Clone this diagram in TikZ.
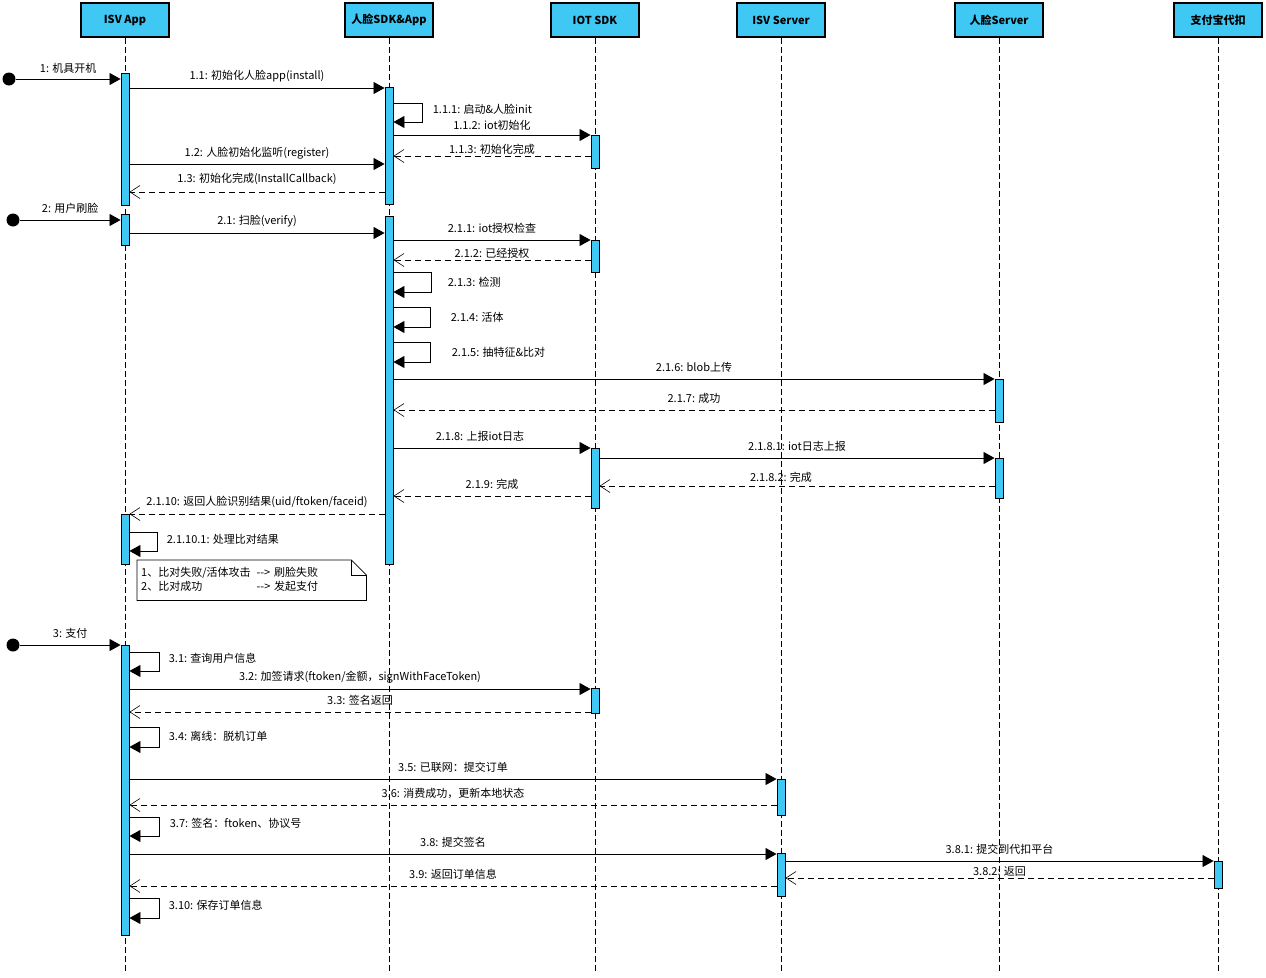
\documentclass[tikz,border=0pt]{standalone}
\usepackage{fontspec}
\setmainfont{Noto Sans CJK SC}
\usetikzlibrary{
    arrows.meta,
    positioning
}
\definecolor{ink}{RGB}{0,0,0}
\definecolor{lifebox}{RGB}{64,200,245}
\definecolor{notefill}{RGB}{255,255,255}
\tikzset{
    line join=miter,
    head/.style={
        rectangle,
        draw=ink,
        line width=1.2pt,
        fill=lifebox,
        minimum width=88pt,
        minimum height=34pt,
        inner sep=0pt,
        font=\bfseries\fontsize{11}{13}\selectfont
    },
    lifeline/.style={
        draw=ink,
        line width=0.8pt,
        dash pattern=on 6pt off 3pt
    },
    actbar/.style={
        rectangle,
        draw=ink,
        line width=0.9pt,
        fill=lifebox,
        minimum width=8pt,
        inner sep=0pt,
        anchor=north
    },
    startdot/.style={
        circle,
        fill=ink,
        minimum size=13pt,
        inner sep=0pt
    },
    call/.style={
        -{Triangle[length=11pt, width=12pt]},
        draw=ink,
        line width=0.8pt
    },
    reply/.style={
        -{Straight Barb[length=10pt, width=13pt, line width=0.6pt]},
        draw=ink,
        line width=0.8pt,
        dash pattern=on 6pt off 4pt
    },
    lbl/.style={
        midway,
        yshift=#1,
        inner sep=0pt,
        font=\fontsize{11}{13}\selectfont
    },
    lbl/.default=12pt,
    selflbl/.style={
        anchor=west,
        inner sep=0pt,
        font=\fontsize{11}{13}\selectfont
    },
    notebox/.style={
        rectangle,
        anchor=north west,
        minimum width=229pt,
        minimum height=40pt,
        inner xsep=4pt,
        inner ysep=0pt,
        text width=221pt,
        align=left,
        font=\fontsize{11}{14}\selectfont
    }
}

\begin{document}
\begin{tikzpicture}[x=1pt, y=-1pt]
\useasboundingbox (0,0) rectangle (1266,977);

% Lifeline heads
\node[head] (isv) at (125,20) {ISV App};
\node[head] (sdk) at (389,20) {人脸SDK\&App};
\node[head] (iot) at (595,20) {IOT SDK};
\node[head] (isvsrv) at (781,20) {ISV Server};
\node[head] (facesrv) at (999,20) {人脸Server};
\node[head] (alipay) at (1218,20) {支付宝代扣};

% Lifelines
\foreach \who in {isv, sdk, iot, isvsrv, facesrv, alipay}
    \draw[lifeline] (\who.south) -- (\who.south |- 0,972);

% Activation bars
\node[actbar, minimum height=132pt] (isvA) at (isv |- 0,73) {};
\node[actbar, minimum height=31pt] (isvB) at (isv |- 0,214) {};
\node[actbar, minimum height=50pt] (isvC) at (isv |- 0,514) {};
\node[actbar, minimum height=290pt] (isvD) at (isv |- 0,645) {};
\node[actbar, minimum height=117pt] (sdkA) at (sdk |- 0,87) {};
\node[actbar, minimum height=348pt] (sdkB) at (sdk |- 0,216) {};
\node[actbar, minimum height=33pt] (iotA) at (iot |- 0,135) {};
\node[actbar, minimum height=32pt] (iotB) at (iot |- 0,240) {};
\node[actbar, minimum height=60pt] (iotC) at (iot |- 0,448) {};
\node[actbar, minimum height=25pt] (iotD) at (iot |- 0,688) {};
\node[actbar, minimum height=36pt] (srvA) at (isvsrv |- 0,779) {};
\node[actbar, minimum height=43pt] (srvB) at (isvsrv |- 0,853) {};
\node[actbar, minimum height=43pt] (faceA) at (facesrv |- 0,379) {};
\node[actbar, minimum height=40pt] (faceB) at (facesrv |- 0,458) {};
\node[actbar, minimum height=27pt] (payA) at (alipay |- 0,861) {};

% Start points
\node[startdot] (start1) at (9,79) {};
\node[startdot] (start2) at (13,220) {};
\node[startdot] (start3) at (13,645) {};

% 1: power on
\draw[call] (start1) -- (isvA.west |- start1) node[lbl=11pt] {1: 机具开机};
\draw[call] (isvA.east |- 0,88) -- (sdkA.west |- 0,88) node[lbl] {1.1: 初始化人脸app(install)};
\draw[call] (sdkA.east |- 0,103) -- ++(29,0)
    node[selflbl, xshift=10pt, yshift=-6pt] {1.1.1: 启动\&人脸init}
    |- (sdkA.east |- 0,122);
\draw[call] (sdkA.east |- 0,135) -- (iotA.west |- 0,135) node[lbl=10pt] {1.1.2: iot初始化};
\draw[reply] (iotA.west |- 0,156) -- (sdkA.east |- 0,156) node[lbl=7pt] {1.1.3: 初始化完成};
\draw[call] (isvA.east |- 0,164) -- (sdkA.west |- 0,164) node[lbl=11pt] {1.2: 人脸初始化监听(register)};
\draw[reply] (sdkA.west |- 0,192) -- (isvA.east |- 0,192) node[lbl=13pt] {1.3: 初始化完成(InstallCallback)};

% 2: face scan
\draw[call] (start2) -- (isvB.west |- start2) node[lbl] {2: 用户刷脸};
\draw[call] (isvB.east |- 0,233) -- (sdkB.west |- 0,233) node[lbl] {2.1: 扫脸(verify)};
\draw[call] (sdkB.east |- 0,240) -- (iotB.west |- 0,240) node[lbl] {2.1.1: iot授权检查};
\draw[reply] (iotB.west |- 0,260) -- (sdkB.east |- 0,260) node[lbl=7pt] {2.1.2: 已经授权};
\draw[call] (sdkB.east |- 0,272) -- ++(38,0)
    node[selflbl, xshift=16pt, yshift=-10pt] {2.1.3: 检测}
    |- (sdkB.east |- 0,292);
\draw[call] (sdkB.east |- 0,307) -- ++(37,0)
    node[selflbl, xshift=20pt, yshift=-10pt] {2.1.4: 活体}
    |- (sdkB.east |- 0,327);
\draw[call] (sdkB.east |- 0,342) -- ++(37,0)
    node[selflbl, xshift=21pt, yshift=-10pt] {2.1.5: 抽特征\&比对}
    |- (sdkB.east |- 0,362);
\draw[call] (sdkB.east |- 0,379) -- (faceA.west |- 0,379) node[lbl] {2.1.6: blob上传};
\draw[reply] (faceA.west |- 0,410) -- (sdkB.east |- 0,410) node[lbl] {2.1.7: 成功};
\draw[call] (sdkB.east |- 0,448) -- (iotC.west |- 0,448) node[lbl, xshift=-12pt] {2.1.8: 上报iot日志};
\draw[call] (iotC.east |- 0,458) -- (faceB.west |- 0,458) node[lbl] {2.1.8.1: iot日志上报};
\draw[reply] (faceB.west |- 0,486) -- (iotC.east |- 0,486) node[lbl=9pt, xshift=-16pt] {2.1.8.2: 完成};
\draw[reply] (iotC.west |- 0,496) -- (sdkB.east |- 0,496) node[lbl] {2.1.9: 完成};
\draw[reply] (sdkB.west |- 0,514) -- (isvC.east |- 0,514) node[lbl] {2.1.10: 返回人脸识别结果(uid/ftoken/faceid)};
\draw[call] (isvC.east |- 0,532) -- ++(28,0)
    node[selflbl, xshift=9pt, yshift=-7pt] {2.1.10.1: 处理比对结果}
    |- (isvC.east |- 0,551);

% Note on the result
\node[notebox] (note) at (137,560) {%
    \begin{tabular}{@{}l@{\hspace{6pt}}l@{}}
    1、比对失败/活体攻击 & -{}-> 刷脸失败\\
    2、比对成功 & -{}-> 发起支付
    \end{tabular}};
\draw[draw=ink, line width=0.8pt, fill=notefill, fill opacity=0]
    (note.south west) -- (note.north west) -- ([xshift=-15pt]note.north east)
    -- ([yshift=-15pt]note.north east) -- (note.south east) -- cycle;
\draw[draw=ink, line width=0.8pt]
    ([xshift=-15pt]note.north east) -- ([xshift=-15pt, yshift=-15pt]note.north east)
    -- ([yshift=-15pt]note.north east);

% 3: payment
\draw[call] (start3) -- (isvD.west |- start3) node[lbl] {3: 支付};
\draw[call] (isvD.east |- 0,652) -- ++(30,0)
    node[selflbl, xshift=9pt, yshift=-6pt] {3.1: 查询用户信息}
    |- (isvD.east |- 0,671);
\draw[call] (isvD.east |- 0,689) -- (iotD.west |- 0,689) node[lbl] {3.2: 加签请求(ftoken/金额，signWithFaceToken)};
\draw[reply] (iotD.west |- 0,712) -- (isvD.east |- 0,712) node[lbl] {3.3: 签名返回};
\draw[call] (isvD.east |- 0,727) -- ++(30,0)
    node[selflbl, xshift=9pt, yshift=-9pt] {3.4: 离线：脱机订单}
    |- (isvD.east |- 0,747);
\draw[call] (isvD.east |- 0,779) -- (srvA.west |- 0,779) node[lbl] {3.5: 已联网：提交订单};
\draw[reply] (srvA.west |- 0,805) -- (isvD.east |- 0,805) node[lbl] {3.6: 消费成功，更新本地状态};
\draw[call] (isvD.east |- 0,817) -- ++(30,0)
    node[selflbl, xshift=10pt, yshift=-6pt] {3.7: 签名：ftoken、协议号}
    |- (isvD.east |- 0,836);
\draw[call] (isvD.east |- 0,854) -- (srvB.west |- 0,854) node[lbl] {3.8: 提交签名};
\draw[call] (srvB.east |- 0,861) -- (payA.west |- 0,861) node[lbl] {3.8.1: 提交到代扣平台};
\draw[reply] (payA.west |- 0,878) -- (srvB.east |- 0,878) node[lbl=7pt] {3.8.2: 返回};
\draw[reply] (srvB.west |- 0,886) -- (isvD.east |- 0,886) node[lbl] {3.9: 返回订单信息};
\draw[call] (isvD.east |- 0,898) -- ++(30,0)
    node[selflbl, xshift=9pt, yshift=-7pt] {3.10: 保存订单信息}
    |- (isvD.east |- 0,918);

\end{tikzpicture}
\end{document}
